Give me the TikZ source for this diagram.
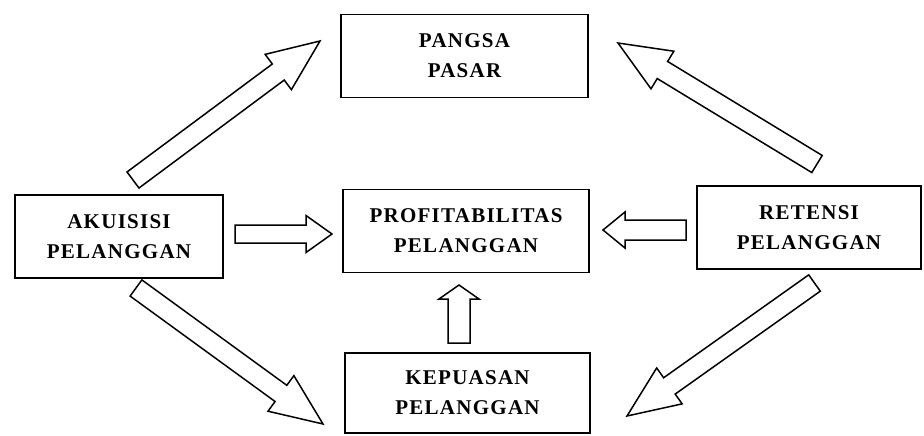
\documentclass[tikz,border=0pt]{standalone}
\usepackage{fontspec}
\setmainfont{Liberation Serif}
\usetikzlibrary{calc,positioning}

\newcommand{\blockarrow}[5]{%
  \coordinate (hb) at ($(#2)!#5!(#1)$);
  \draw[blockarr] ($(#1)!#3!90:(#2)$) -- ($(hb)!#3!90:(#2)$) -- ($(hb)!#4!90:(#2)$)
    -- (#2) -- ($(hb)!#4!-90:(#2)$) -- ($(hb)!#3!-90:(#2)$) -- ($(#1)!#3!-90:(#2)$) -- cycle;
}

\begin{document}
\begin{tikzpicture}[x=1pt, y=-1pt,
      box/.style={draw, line width=1.3pt, align=center, inner sep=0pt,
                  minimum width=#1, minimum height=83pt,
                  font={\fontsize{21}{30}\selectfont\bfseries\addfontfeature{LetterSpace=6}}},
      blockarr/.style={draw, line width=1.5pt, fill=white, line join=miter}]
    \useasboundingbox (0,0) rectangle (924,436);
    \node[box=247pt] (pangsa)   at (464.5,56)  {PANGSA\\PASAR};
    \node[box=208pt] (akuisisi) at (119,236.5) {AKUISISI\\PELANGGAN};
    \node[box=246pt] (profit)   at (466,231)   {PROFITABILITAS\\PELANGGAN};
    \node[box=224pt] (retensi)  at (809,227.5) {RETENSI\\PELANGGAN};
    \node[box=245pt, minimum height=80pt] (kepuasan) at (467.5,393) {KEPUASAN\\PELANGGAN};
    \coordinate (a1) at (133,180);   \coordinate (p1) at (320,41);
    \coordinate (r1) at (817,164);   \coordinate (p2) at (618,43);
    \coordinate (a2) at (136,288);   \coordinate (k1) at (323,424);
    \coordinate (r2) at (814.5,283); \coordinate (k2) at (627,416);
    \coordinate (a3) at (235,234);   \coordinate (f1) at (332,234);
    \coordinate (r3) at (686,230);   \coordinate (f2) at (603,230);
    \coordinate (k3) at (459,343);   \coordinate (f3) at (459,285);
    \blockarrow{a1}{p1}{10pt}{22pt}{52pt}
    \blockarrow{r1}{p2}{10pt}{22pt}{52pt}
    \blockarrow{a2}{k1}{10pt}{22pt}{52pt}
    \blockarrow{r2}{k2}{10pt}{22pt}{52pt}
    \blockarrow{a3}{f1}{9pt}{18.5pt}{26pt}
    \blockarrow{r3}{f2}{10pt}{18pt}{22pt}
    \blockarrow{k3}{f3}{11pt}{20pt}{14pt}
\end{tikzpicture}
\end{document}
